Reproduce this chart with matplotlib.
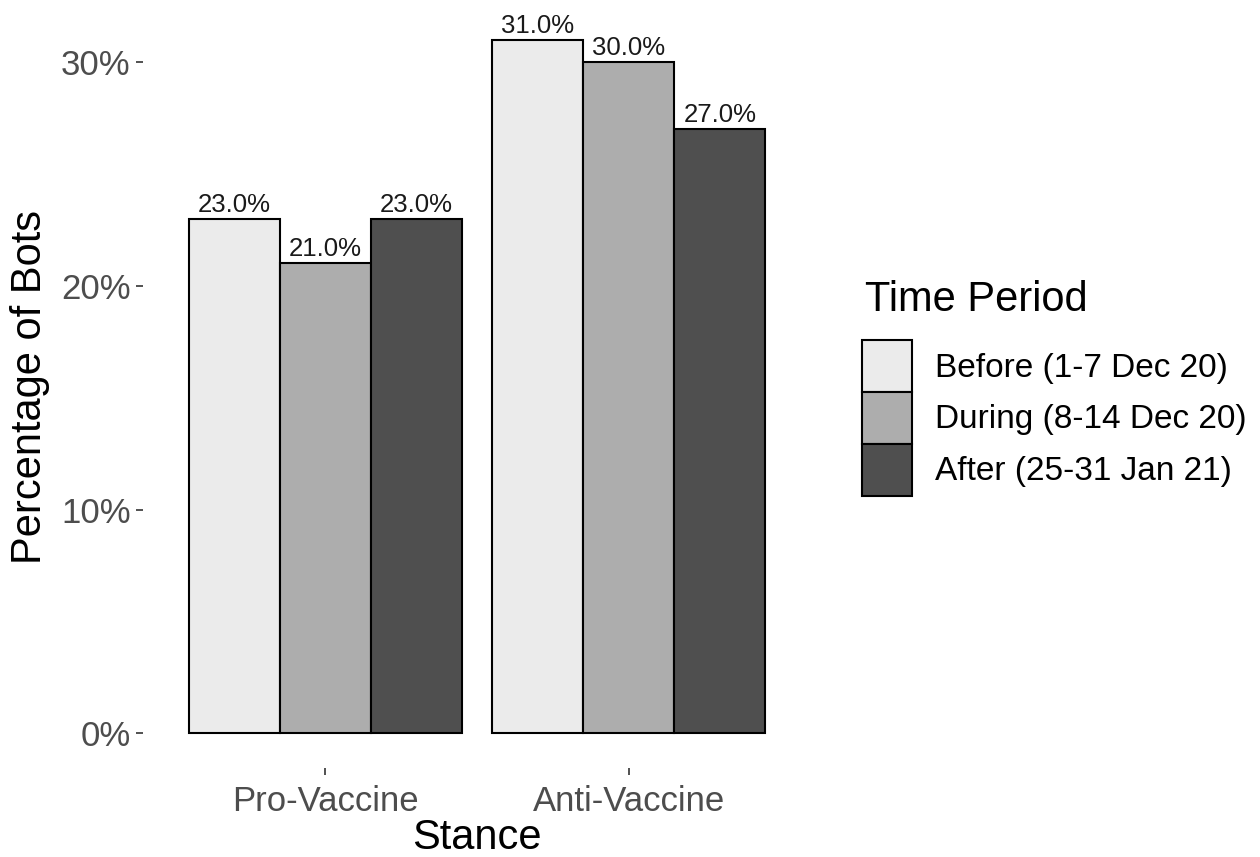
import matplotlib
import matplotlib.pyplot as plt
import matplotlib.ticker as ticker
import numpy as np

plt.rcParams['font.family'] = ['Liberation Sans', 'DejaVu Sans']

stances = ["Pro-Vaccine", "Anti-Vaccine"]
periods = ["Before (1-7 Dec 20)", "During (8-14 Dec 20)", "After (25-31 Jan 21)"]
before = [23.0, 31.0]
during = [21.0, 30.0]
after = [23.0, 27.0]
colors = ["#EBEBEB", "#ADADAD", "#4F4F4F"]

W, H = 1260, 857
fig = plt.figure(figsize=(W / 100, H / 100), dpi=100)
# panel in pixels: left 143, right 811, top 5, bottom 768
ax = fig.add_axes([143 / W, 1 - 768 / H, (811 - 143) / W, (768 - 5) / H])

x = np.arange(1, len(stances) + 1)
width = 0.3
series = [before, during, after]
for i, vals in enumerate(series):
    rects = ax.bar(x + (i - 1) * width, vals, width, color=colors[i], edgecolor="black",
                   linewidth=1.5, label=periods[i], zorder=2)
    for bar in rects:
        h = bar.get_height()
        ax.annotate(f'{h:.1f}%', xy=(bar.get_x() + bar.get_width() / 2, h), xytext=(0, 1.5),
                    textcoords="offset points", ha='center', va='bottom', fontsize=18.5, color="#1a1a1a")

ax.set_xlim(0.4, 2.6)
ax.set_ylim(-1.55, 32.55)
ax.set_yticks([0, 10, 20, 30])
ax.yaxis.set_major_formatter(ticker.FuncFormatter(lambda v, p: f'{v:.0f}%'))
ax.set_xticks(x)
ax.set_xticklabels(stances)
for s in ax.spines.values():
    s.set_visible(False)
ax.tick_params(axis='both', length=5, width=1.2, color="#333333", labelcolor="#4D4D4D",
               labelsize=25, pad=4)
ax.tick_params(axis='x', pad=7)
ax.set_ylabel('Percentage of Bots', fontsize=30, labelpad=8)
ax.set_xlabel('Stance', fontsize=30, labelpad=0)

fig.text(865 / W, 1 - 300 / H, "Time Period", fontsize=30, ha='left', va='center')
leg = ax.legend(loc="upper left", bbox_to_anchor=(862 / W, 1 - 340 / H),
                bbox_transform=fig.transFigure, frameon=False, fontsize=24,
                handlelength=1.5, handleheight=2.02, labelspacing=0, handletextpad=0.7,
                borderaxespad=0, borderpad=0)

plt.savefig('out.png', dpi=100)
